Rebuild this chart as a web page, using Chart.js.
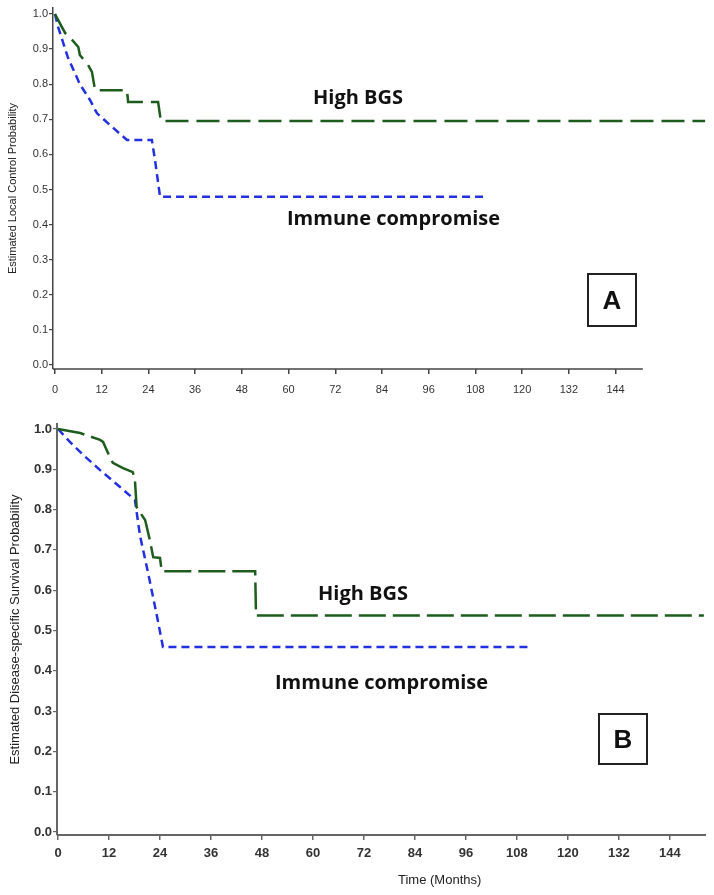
<!DOCTYPE html>
<html>
<head>
<meta charset="utf-8">
<script src="https://cdn.jsdelivr.net/npm/chart.js@4.4.0/dist/chart.umd.min.js"></script>
<style>
  body { margin: 0; background: #fff; width: 714px; height: 895px; position: relative; overflow: hidden; }
  canvas { position: absolute; left: 0; }
  #chartA { top: 0; }
  #chartB { top: 415px; }
  .lbl { position: absolute; font-family: "Open Sans", sans-serif; font-weight: 700; font-size: 20px; color: #111; white-space: nowrap; line-height: 1; }
  .box { position: absolute; box-sizing: border-box; border: 2px solid #222; font-family: "Liberation Sans", Arial, sans-serif; font-weight: 700; font-size: 26px; text-align: center; color: #111; }
  .xtitle { position: absolute; font-family: "Liberation Sans", Arial, sans-serif; font-size: 13px; color: #222; white-space: nowrap; line-height: 1; }
</style>
</head>
<body>
<canvas id="chartA" width="714" height="415"></canvas>
<canvas id="chartB" width="714" height="480"></canvas>

<div class="lbl" style="left:313px;top:87px;">High BGS</div>
<div class="lbl" style="left:287px;top:208px;">Immune compromise</div>
<div class="lbl" style="left:318px;top:583px;">High BGS</div>
<div class="lbl" style="left:275px;top:672px;">Immune compromise</div>
<div class="box" style="left:587px;top:273px;width:50px;height:54px;line-height:50px;">A</div>
<div class="box" style="left:598px;top:713px;width:50px;height:52px;line-height:48px;">B</div>
<div class="xtitle" style="left:398px;top:873px;">Time (Months)</div>

<script>
// eje x (meses) y eje y (probabilidad)
const monthTicks = [0, 12, 24, 36, 48, 60, 72, 84, 96, 108, 120, 132, 144];
const probTicks = [0, 0.1, 0.2, 0.3, 0.4, 0.5, 0.6, 0.7, 0.8, 0.9, 1.0];

// Panel A: control local
const aHighMonths = [0, 0.8, 2.6, 4.4, 6, 6.4, 8.5, 9.5, 10.3, 18.5, 18.8, 26.5, 27.2, 167];
const aHighProb   = [1, 0.983, 0.946, 0.926, 0.906, 0.883, 0.855, 0.835, 0.783, 0.783, 0.749, 0.749, 0.695, 0.695];
const aImmMonths  = [0, 0.8, 3.3, 6.4, 9, 10.8, 14.1, 18.5, 24.9, 25.7, 27, 111];
const aImmProb    = [1, 0.963, 0.877, 0.80, 0.755, 0.717, 0.684, 0.641, 0.641, 0.584, 0.479, 0.479];

// Panel B: supervivencia especifica
const bHighMonths = [0, 5.2, 9.9, 10.6, 12.2, 12.9, 15.3, 17.6, 18.1, 18.5, 20.5, 21.6, 22.4, 24, 24.4, 46.4, 46.6, 152];
const bHighProb   = [1, 0.99, 0.973, 0.968, 0.93, 0.916, 0.903, 0.893, 0.873, 0.806, 0.774, 0.725, 0.682, 0.68, 0.647, 0.647, 0.537, 0.537];
const bImmMonths  = [0, 2.8, 6, 9.9, 14.6, 18.1, 19.3, 21.2, 23.3, 24.7, 110.6];
const bImmProb    = [1, 0.968, 0.935, 0.898, 0.856, 0.824, 0.735, 0.643, 0.535, 0.459, 0.459];

const toPoints = (xs, ys) => xs.map((x, i) => ({ x: x, y: ys[i] }));

// dibuja la linea del eje x hasta un valor dado
const axisLinePlugin = {
  id: 'axisLine',
  afterDraw(chart, args, opts) {
    const xs = chart.scales.x;
    const area = chart.chartArea;
    const ctx = chart.ctx;
    const end = opts.end != null ? xs.getPixelForValue(opts.end) : area.right;
    ctx.save();
    ctx.strokeStyle = opts.color || '#444';
    ctx.lineWidth = opts.width || 1.5;
    ctx.beginPath();
    ctx.moveTo(area.left, area.bottom);
    ctx.lineTo(end, area.bottom);
    ctx.stroke();
    ctx.restore();
  }
};

const crearPanel = (canvasid, high, imm, p) => {
  const data = {
    datasets: [
      {
        label: 'High BGS',
        data: high,
        borderColor: '#1d5c1d',
        borderWidth: 2.5,
        borderDash: p.greenDash,
        pointRadius: 0,
        fill: false,
        tension: 0
      },
      {
        label: 'Immune compromise',
        data: imm,
        borderColor: '#2330e0',
        borderWidth: 2.5,
        borderDash: [8, 5],
        pointRadius: 0,
        fill: false,
        tension: 0
      }
    ]
  };
  const config = {
    type: 'line',
    data: data,
    plugins: [axisLinePlugin],
    options: {
      responsive: false,
      animation: false,
      layout: { padding: { top: p.top, right: p.right, left: 0, bottom: 0 } },
      plugins: {
        legend: { display: false },
        tooltip: { enabled: false },
        axisLine: { end: p.axisEnd, color: p.axisColor, width: p.axisWidth }
      },
      scales: {
        x: {
          type: 'linear',
          min: p.xMin,
          max: p.xMax,
          afterBuildTicks: s => { s.ticks = monthTicks.map(v => ({ value: v })); },
          afterFit: s => { s.height = p.xHeight; },
          border: { display: false },
          grid: { drawOnChartArea: false, tickLength: 5, tickColor: p.axisColor, lineWidth: 1.5 },
          ticks: { autoSkip: false, maxRotation: 0, padding: p.xPad, color: '#333',
                   font: { family: 'Liberation Sans', size: p.tickSize, weight: p.tickWeight } }
        },
        y: {
          min: p.yMin,
          max: p.yMax,
          afterBuildTicks: s => { s.ticks = probTicks.map(v => ({ value: v })); },
          afterFit: s => { s.width = p.yWidth; },
          border: { display: true, color: p.axisColor, width: p.axisWidth },
          grid: { drawOnChartArea: false, tickLength: 4, tickColor: p.axisColor, lineWidth: 1.2 },
          ticks: { padding: 1, color: '#333', callback: v => v.toFixed(1),
                   font: { family: 'Liberation Sans', size: p.tickSize, weight: p.tickWeight } },
          title: { display: true, text: p.yTitle, color: '#222', padding: { top: p.titlePad, bottom: 0 },
                   font: { family: 'Liberation Sans', size: p.titleSize } }
        }
      }
    }
  };
  return new Chart(document.getElementById(canvasid), config);
};

crearPanel('chartA', toPoints(aHighMonths, aHighProb), toPoints(aImmMonths, aImmProb), {
  top: 8, right: 5, xMin: -0.5, xMax: 168, yMin: -0.0114, yMax: 1.017,
  xHeight: 46, yWidth: 53, xPad: 9, tickSize: 11, tickWeight: 'normal',
  axisEnd: 151, axisColor: '#444', axisWidth: 1.5, greenDash: [23, 8],
  yTitle: 'Estimated Local Control Probability', titleSize: 11, titlePad: 6
});

crearPanel('chartB', toPoints(bHighMonths, bHighProb), toPoints(bImmMonths, bImmProb), {
  top: 9, right: 8, xMin: -0.24, xMax: 152.5, yMin: -0.0074, yMax: 1.0124,
  xHeight: 60, yWidth: 57, xPad: 6, tickSize: 13, tickWeight: 'bold',
  axisEnd: null, axisColor: '#666', axisWidth: 2, greenDash: [27, 7],
  yTitle: 'Estimated Disease-specific Survival Probability', titleSize: 13, titlePad: 8
});
</script>
</body>
</html>
